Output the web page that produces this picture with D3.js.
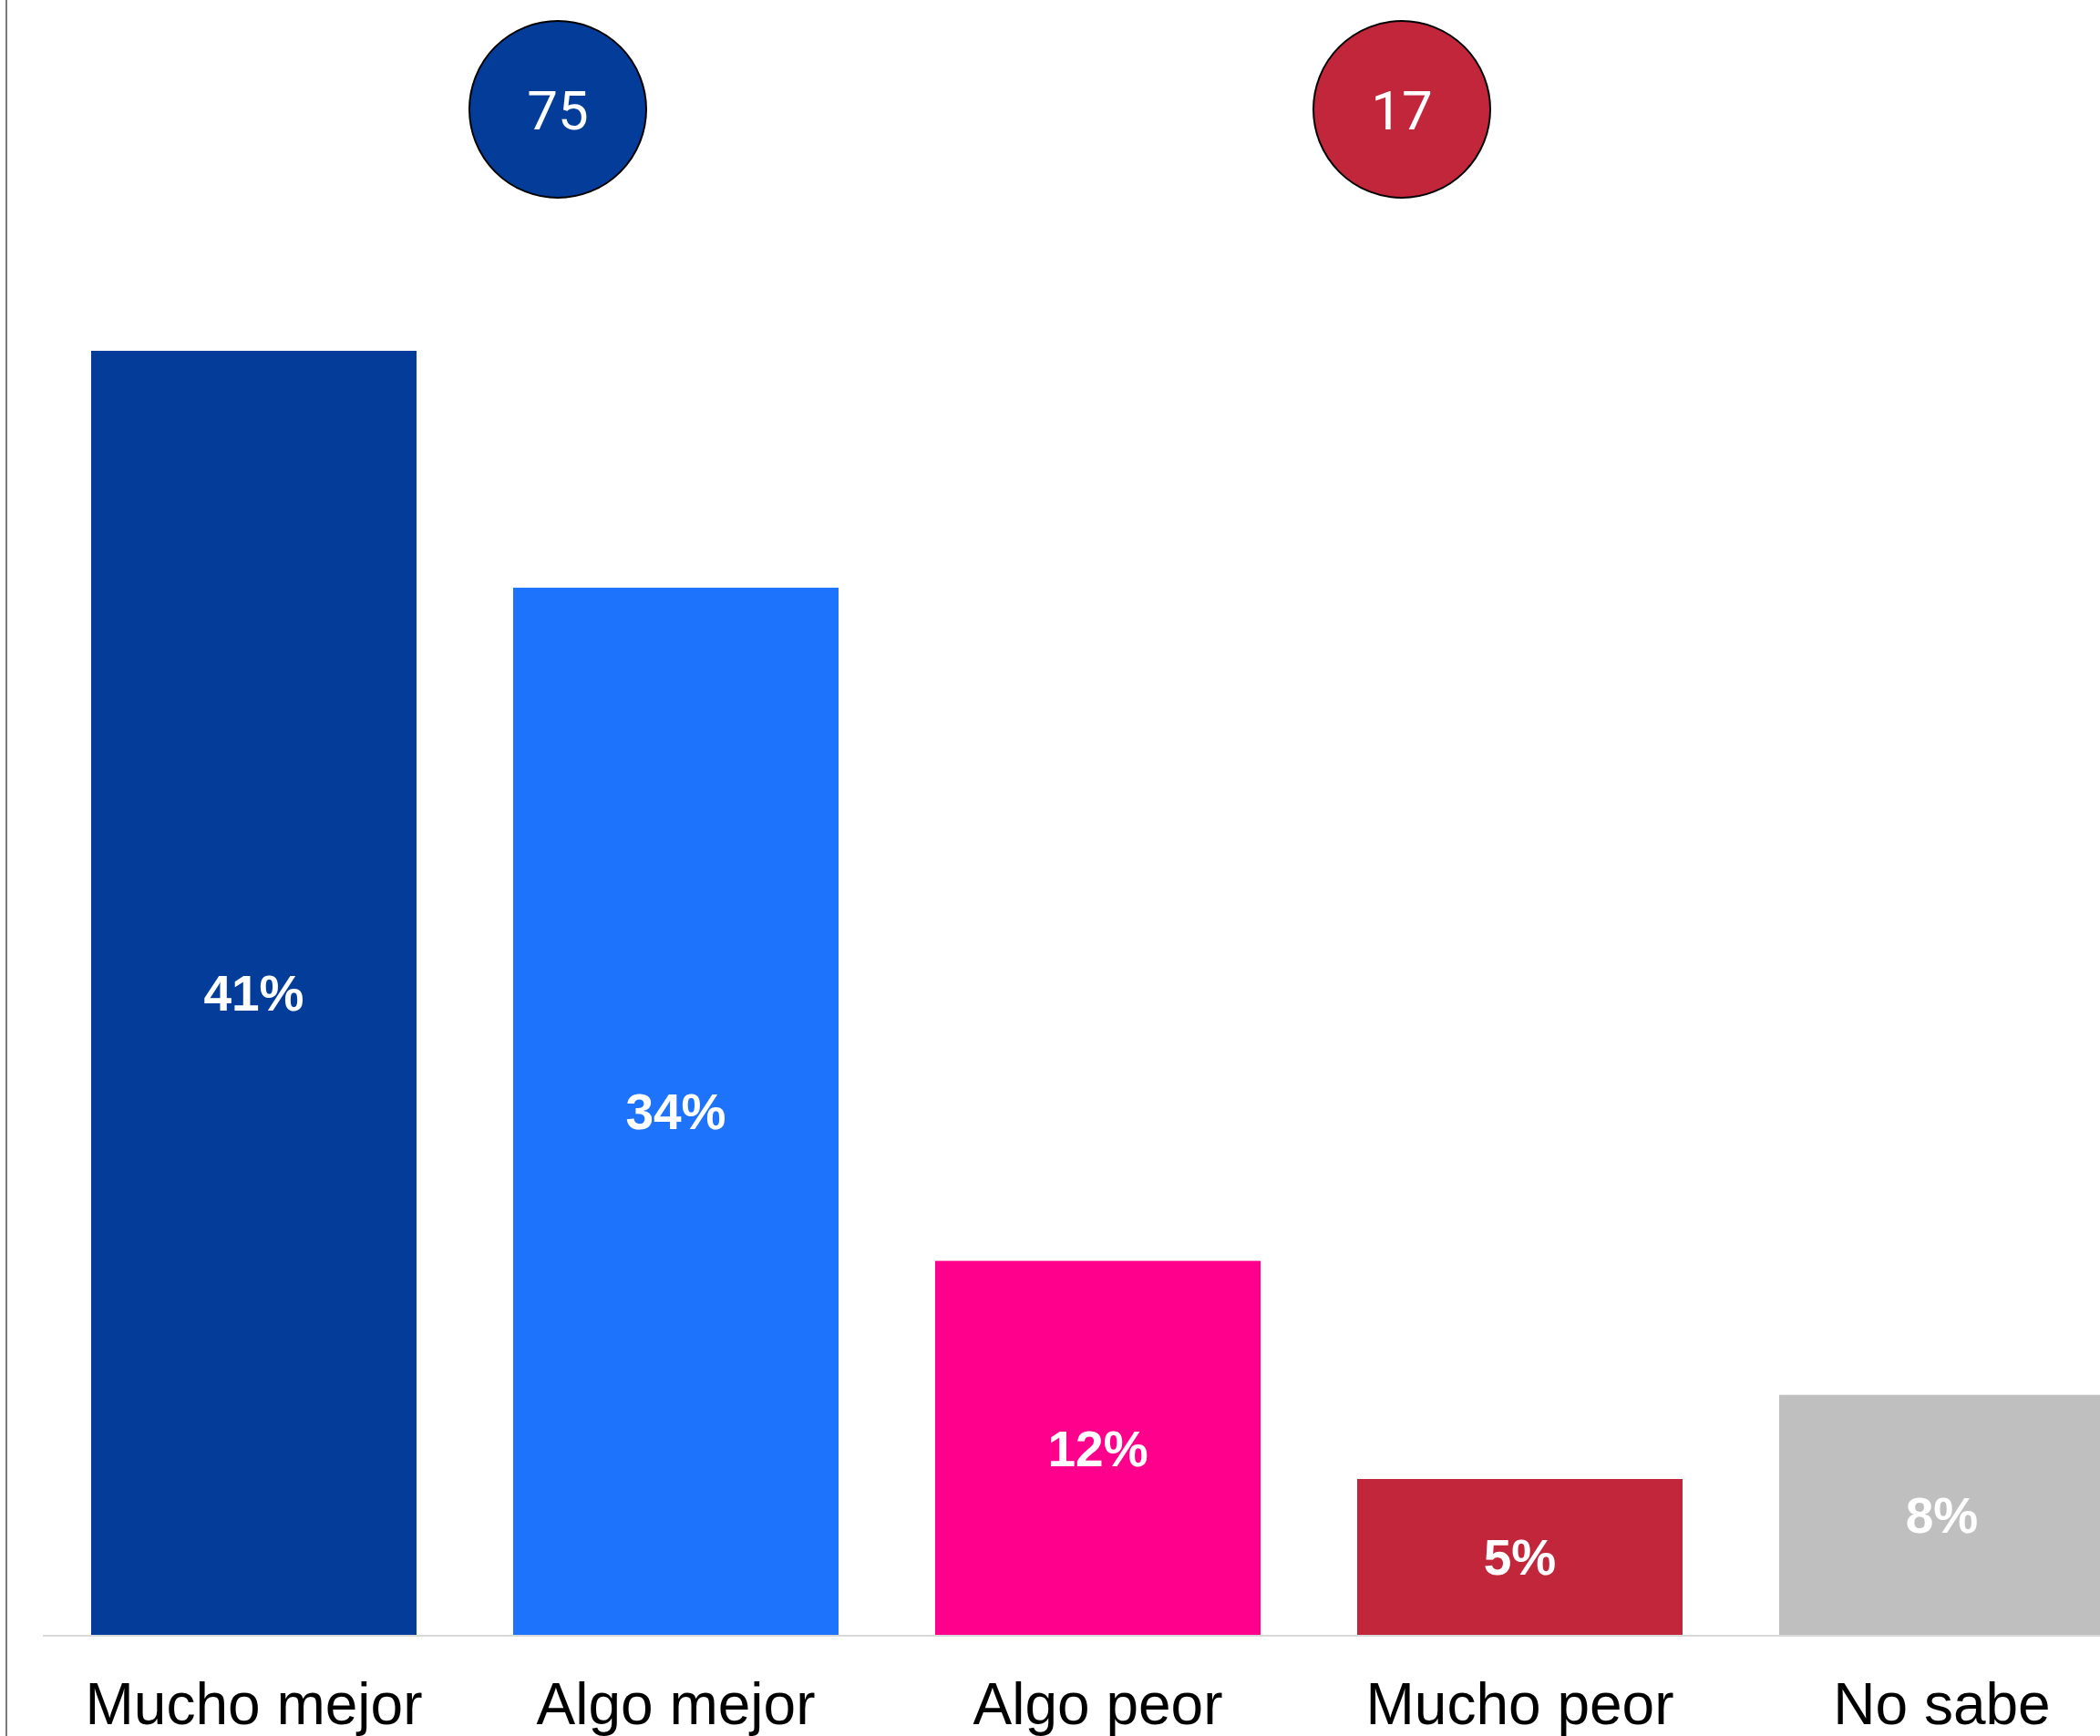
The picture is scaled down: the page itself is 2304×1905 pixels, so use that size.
<!DOCTYPE html>
<html>
<head>
<meta charset="utf-8">
<script src="https://cdn.jsdelivr.net/npm/d3@7"></script>
<style>
  body { margin: 0; background: #fff; }
  svg { display: block; }
</style>
</head>
<body>
<svg width="2304" height="1905"></svg>
<script>
// données
const categories = ["Mucho mejor", "Algo mejor", "Algo peor", "Mucho peor", "No sabe"];
const values = [41.2, 33.6, 12.0, 5.0, 7.7];
const colors = ["#033d99", "#1e73fc", "#ff008c", "#c1263b", "#bfbfbf"];

// bulles de total (positif / négatif)
const totalLabels = ["75", "17"];
const totalPairs = [[0, 1], [2, 3]];
const totalColors = ["#033d99", "#c1263b"];

/*----------- Dimension -----------*/
const W = 2304, H = 1905;
const baseY = 1794;

const svg = d3.select("svg");

const x = d3.scaleBand()
  .domain(categories)
  .range([100, 2309])
  .paddingInner(0.229)
  .paddingOuter(0);

const y = d3.scaleLinear().domain([0, 50]).range([baseY, baseY - 1710]);

// ligne verticale à gauche
svg.append("line")
  .attr("x1", 7).attr("x2", 7)
  .attr("y1", 0).attr("y2", H)
  .attr("stroke", "#7a7a7a")
  .attr("stroke-width", 2);

// barres
svg.selectAll(".bar")
  .data(categories)
  .enter()
  .append("rect")
  .attr("class", "bar")
  .attr("x", (d) => x(d))
  .attr("width", x.bandwidth())
  .attr("y", (d, i) => y(values[i]))
  .attr("height", (d, i) => y(0) - y(values[i]))
  .attr("fill", (d, i) => colors[i]);

// ligne de base
svg.append("line")
  .attr("x1", 47).attr("x2", W)
  .attr("y1", baseY + 1).attr("y2", baseY + 1)
  .attr("stroke", "#d9d9d9")
  .attr("stroke-width", 2);

// pourcentages dans les barres
svg.selectAll(".val")
  .data(categories)
  .enter()
  .append("text")
  .attr("class", "val")
  .attr("x", (d) => x(d) + x.bandwidth() / 2)
  .attr("y", (d, i) => (y(values[i]) + y(0)) / 2)
  .attr("dy", "0.36em")
  .attr("text-anchor", "middle")
  .attr("fill", "#fff")
  .attr("font-family", "'Liberation Sans', Arial, sans-serif")
  .attr("font-weight", "bold")
  .attr("font-size", 55)
  .text((d, i) => Math.round(values[i]) + "%");

// noms des catégories
svg.selectAll(".cat")
  .data(categories)
  .enter()
  .append("text")
  .attr("class", "cat")
  .attr("x", (d) => x(d) + x.bandwidth() / 2)
  .attr("y", 1892)
  .attr("text-anchor", "middle")
  .attr("fill", "#000")
  .attr("font-family", "'Liberation Sans', Arial, sans-serif")
  .attr("font-size", 64)
  .text((d) => d);

// bulles
const bubbles = svg.selectAll(".bubble")
  .data(totalLabels)
  .enter()
  .append("g")
  .attr("class", "bubble")
  .attr("transform", (d, i) => {
    const p = totalPairs[i];
    const cx = (x(categories[p[0]]) + x(categories[p[1]]) + x.bandwidth()) / 2 + 102;
    return "translate(" + cx + ",120)";
  });

bubbles.append("circle")
  .attr("r", 97)
  .attr("fill", (d, i) => totalColors[i])
  .attr("stroke", "#000")
  .attr("stroke-width", 2);

bubbles.append("text")
  .attr("text-anchor", "middle")
  .attr("dy", "0.36em")
  .attr("fill", "#fff")
  .attr("font-family", "Roboto, sans-serif")
  .attr("font-size", 60)
  .text((d) => d);
</script>
</body>
</html>
